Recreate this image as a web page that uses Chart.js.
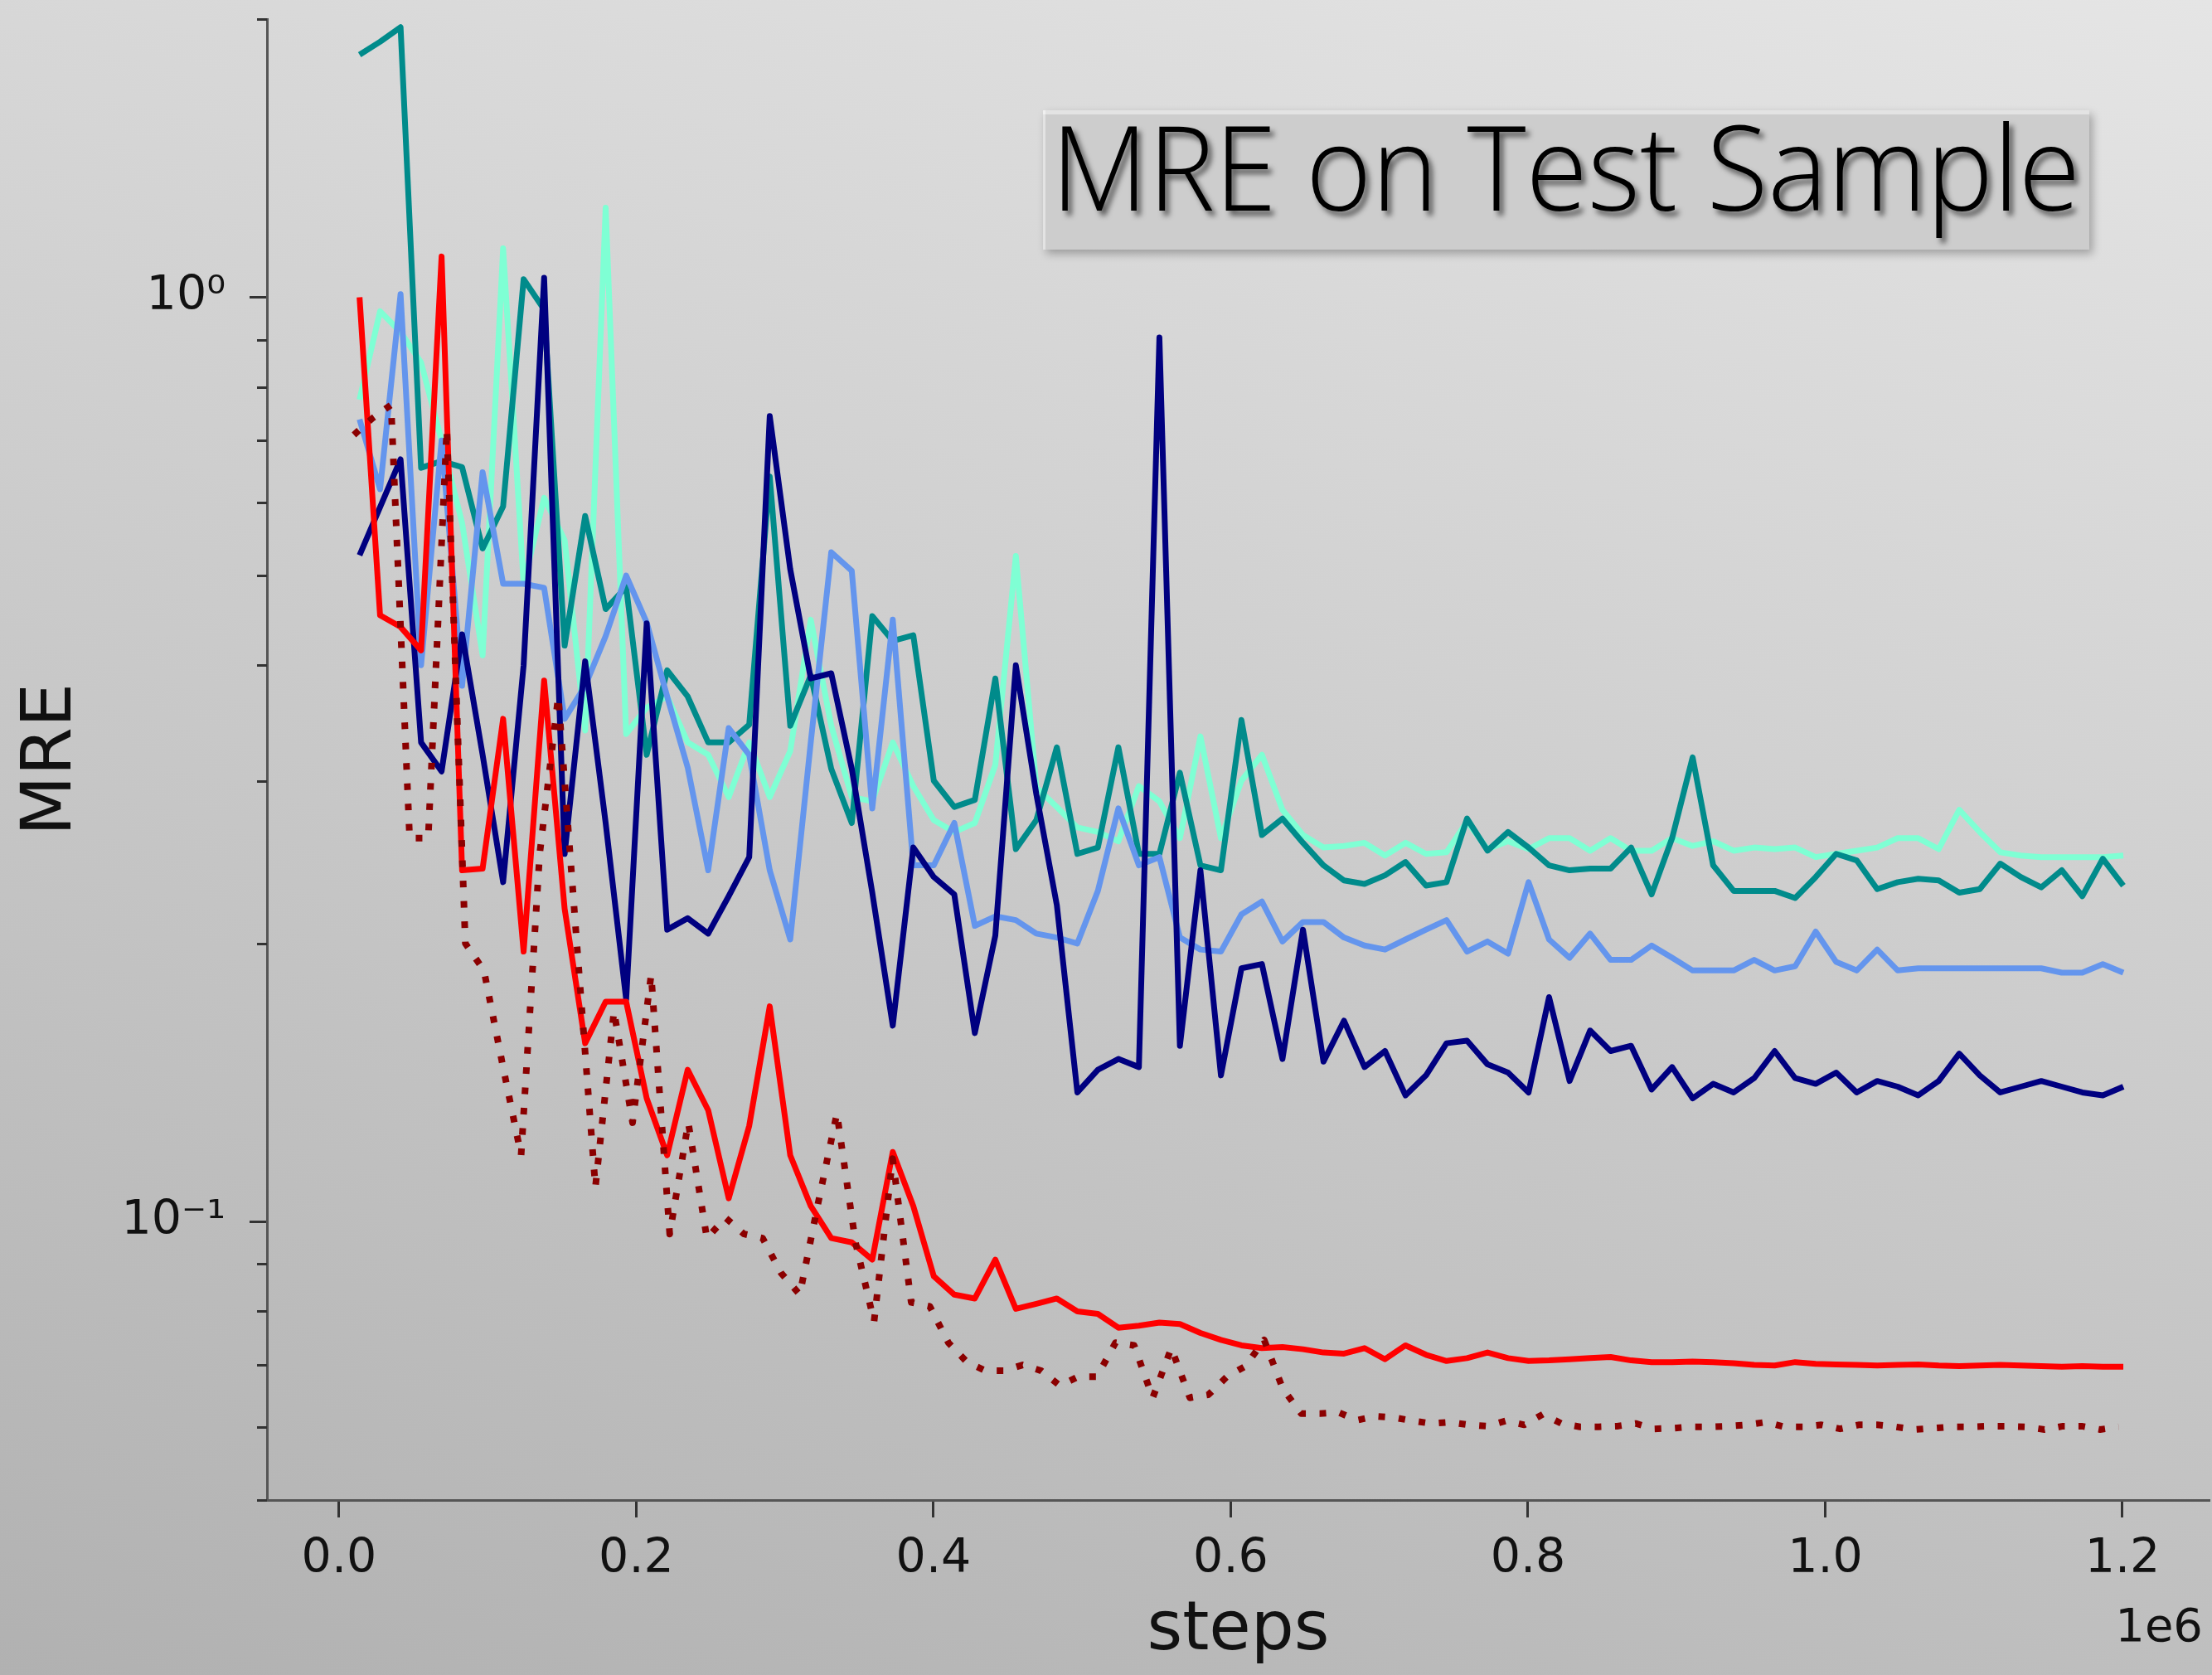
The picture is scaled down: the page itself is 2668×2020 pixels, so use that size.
<!DOCTYPE html>
<html>
<head>
<meta charset="utf-8">
<script src="https://cdn.jsdelivr.net/npm/chart.js@4.4.1/dist/chart.umd.min.js"></script>
<style>
html,body{margin:0;padding:0;}
body{width:2668px;height:2020px;overflow:hidden;background:linear-gradient(195deg,#e5e5e5 0%,#cbcbcb 50%,#b1b1b1 100%);}
#wrap{position:absolute;left:0;top:0;width:2668px;height:2020px;}
canvas{display:block;}
</style>
</head>
<body>
<div id="wrap"><canvas id="c" width="2668" height="2020"></canvas></div>
<script>
// ---------- data ----------
const stepsA = [13800,27600,41400,55200,69000,82800,96600,110400,124200,138000,
151800,165600,179400,193200,207000,220800,234600,248400,262200,276000,
289800,303600,317400,331200,345000,358800,372600,386400,400200,414000,
427800,441600,455400,469200,483000,496800,510600,524400,538200,552000,
565800,579600,593400,607200,621000,634800,648600,662400,676200,690000,
703800,717600,731400,745200,759000,772800,786600,800400,814200,828000,
841800,855600,869400,883200,897000,910800,924600,938400,952200,966000,
979800,993600,1007400,1021200,1035000,1048800,1062600,1076400,1090200,1104000,
1117800,1131600,1145400,1159200,1173000,1186800,1200600];

const stepsB = [10000,22500,35000,47500,60000,72500,85000,97500,110000,122500,
135000,147500,160000,172500,185000,197500,210000,222500,235000,247500,
260000,272500,285000,297500,310000,322500,335000,347500,360000,372500,
385000,397500,410000,422500,435000,447500,460000,472500,485000,497500,
510000,522500,535000,547500,560000,572500,585000,597500,610000,622500,
635000,647500,660000,672500,685000,697500,710000,722500,735000,747500,
760000,772500,785000,797500,810000,822500,835000,847500,860000,872500,
885000,897500,910000,922500,935000,947500,960000,972500,985000,997500,
1010000,1022500,1035000,1047500,1060000,1072500,1085000,1097500,1110000,1122500,
1135000,1147500,1160000,1172500,1185000,1197500];

const tealVals = [1.83,1.89,1.96,0.654,0.665,0.655,0.535,0.594,1.046,0.97,
0.42,0.58,0.46,0.486,0.32,0.395,0.37,0.33,0.33,0.345,
0.64,0.344,0.39,0.309,0.27,0.452,0.425,0.431,0.30,0.281,
0.286,0.387,0.253,0.272,0.326,0.25,0.254,0.326,0.25,0.25,
0.306,0.243,0.24,0.349,0.262,0.273,0.257,0.243,0.234,0.232,
0.237,0.245,0.231,0.233,0.273,0.252,0.264,0.254,0.243,0.24,
0.241,0.241,0.254,0.226,0.26,0.318,0.243,0.228,0.228,0.228,
0.224,0.236,0.25,0.246,0.229,0.233,0.235,0.234,0.227,0.229,
0.244,0.236,0.23,0.24,0.225,0.247,0.231];

const aquaVals = [0.775,0.966,0.917,0.85,0.70,0.57,0.41,1.13,0.49,0.607,
0.546,0.34,1.25,0.337,0.36,0.37,0.33,0.32,0.288,0.33,
0.288,0.323,0.448,0.344,0.288,0.285,0.33,0.296,0.272,0.264,
0.27,0.312,0.525,0.295,0.281,0.267,0.264,0.258,0.296,0.285,
0.26,0.335,0.26,0.30,0.32,0.279,0.262,0.254,0.255,0.257,
0.249,0.257,0.25,0.251,0.271,0.253,0.258,0.253,0.26,0.26,
0.252,0.26,0.252,0.252,0.26,0.255,0.258,0.252,0.254,0.253,
0.254,0.248,0.25,0.252,0.254,0.26,0.26,0.253,0.279,0.264,
0.251,0.249,0.248,0.248,0.248,0.248,0.249];

const cornVals = [0.738,0.62,1.008,0.40,0.70,0.38,0.647,0.49,0.49,0.485,
0.35,0.38,0.43,0.50,0.445,0.37,0.31,0.24,0.342,0.32,
0.24,0.202,0.33,0.53,0.506,0.28,0.448,0.243,0.243,0.27,
0.209,0.214,0.212,0.205,0.203,0.2,0.228,0.28,0.243,0.248,
0.203,0.197,0.196,0.215,0.222,0.201,0.211,0.211,0.203,0.199,
0.197,0.202,0.207,0.212,0.196,0.201,0.195,0.233,0.202,0.193,
0.205,0.192,0.192,0.199,0.193,0.187,0.187,0.187,0.192,0.187,
0.189,0.206,0.191,0.187,0.197,0.187,0.188,0.188,0.188,0.188,
0.188,0.188,0.188,0.186,0.186,0.19,0.186];

const navyVals = [0.526,0.593,0.668,0.33,0.307,0.432,0.32,0.233,0.40,1.05,
0.25,0.404,0.27,0.174,0.444,0.207,0.213,0.205,0.225,0.248,
0.744,0.508,0.387,0.392,0.309,0.227,0.163,0.254,0.236,0.226,
0.16,0.204,0.40,0.29,0.22,0.138,0.146,0.15,0.147,0.905,
0.155,0.24,0.144,0.188,0.19,0.15,0.207,0.149,0.165,0.147,
0.153,0.137,0.144,0.156,0.157,0.148,0.145,0.138,0.175,0.142,
0.161,0.153,0.155,0.139,0.147,0.136,0.141,0.138,0.143,0.153,
0.143,0.141,0.145,0.138,0.142,0.14,0.137,0.142,0.152,0.144,
0.138,0.14,0.142,0.14,0.138,0.137,0.14];

const redVals = [1.0,0.453,0.44,0.415,1.107,0.24,0.241,0.35,0.196,0.385,
0.218,0.156,0.173,0.173,0.136,0.118,0.146,0.132,0.106,0.127,
0.171,0.118,0.104,0.096,0.095,0.091,0.119,0.104,0.0873,0.0834,
0.0826,0.091,0.0805,0.0815,0.0826,0.080,0.0795,0.0768,0.0772,0.0778,
0.0775,0.0758,0.0745,0.0735,0.073,0.0732,0.0728,0.0722,0.072,0.073,
0.071,0.0735,0.0718,0.0707,0.0712,0.0722,0.0712,0.0707,0.0708,0.071,
0.0712,0.0714,0.0708,0.0705,0.0705,0.0706,0.0705,0.0703,0.07,0.0699,
0.0705,0.0702,0.0701,0.07,0.0699,0.07,0.0701,0.0699,0.0698,0.0699,
0.07,0.0699,0.0698,0.0697,0.0698,0.0697,0.0697];

const darkredVals = [0.71,0.74,0.765,0.26,0.26,0.72,0.2,0.187,0.148,0.118,
0.25,0.37,0.2,0.109,0.169,0.128,0.185,0.097,0.128,0.096,
0.101,0.097,0.096,0.088,0.0834,0.105,0.131,0.095,0.078,0.117,
0.0818,0.081,0.074,0.0705,0.069,0.069,0.07,0.069,0.0665,0.068,
0.068,0.074,0.0735,0.0645,0.073,0.0645,0.065,0.068,0.0698,0.0745,
0.066,0.062,0.062,0.0622,0.061,0.0616,0.0614,0.0609,0.0605,0.0607,
0.0603,0.0601,0.0609,0.0603,0.0619,0.0605,0.06,0.06,0.0601,0.0605,
0.0597,0.0598,0.06,0.06,0.0601,0.0603,0.0607,0.06,0.06,0.0603,
0.0597,0.0603,0.0603,0.06,0.0596,0.0598,0.06,0.06,0.0601,0.0601,
0.06,0.0596,0.0601,0.0601,0.0596,0.06];

const xTickValues = [0, 200000, 400000, 600000, 800000, 1000000, 1200000];
const yMajorTicks = [0.1, 1];
const yMajorLabels = ['10\u207B\u00B9', '10\u2070'];
const yMinorTicks = [0.05,0.06,0.07,0.08,0.09,0.2,0.3,0.4,0.5,0.6,0.7,0.8,0.9,2];
const titleText = 'MRE on Test Sample';
const xAxisLabel = 'steps';
const yAxisLabel = 'MRE';
const xOffsetLabel = '1e6';

// ---------- build ----------
const toXY = (xs, ys) => ys.map((v, i) => ({x: xs[i], y: v}));
function series(label, xs, ys, color, extra) {
  return Object.assign({
    label, data: toXY(xs, ys), borderColor: color, backgroundColor: color,
    borderWidth: 7, pointRadius: 0, pointHoverRadius: 0, tension: 0, fill: false,
    borderJoinStyle: 'round', borderCapStyle: 'butt'
  }, extra || {});
}

const minorTicksPlugin = {
  id: 'minorTicks',
  afterDraw(chart) {
    const ctx = chart.ctx, ys = chart.scales.y, left = chart.chartArea.left;
    ctx.save();
    ctx.strokeStyle = '#333';
    ctx.lineWidth = 3;
    yMinorTicks.forEach(v => {
      const p = Math.round(ys.getPixelForValue(v)) + 0.5;
      ctx.beginPath(); ctx.moveTo(left, p); ctx.lineTo(left - 12, p); ctx.stroke();
    });
    ctx.restore();
  }
};

const titleBoxPlugin = {
  id: 'titleBox',
  afterDraw(chart) {
    const ctx = chart.ctx;
    const bx = 1258, by = 133, bw = 1262, bh = 168;
    ctx.save();
    ctx.shadowColor = 'rgba(0,0,0,0.28)';
    ctx.shadowBlur = 10; ctx.shadowOffsetX = 4; ctx.shadowOffsetY = 5;
    ctx.fillStyle = '#cdcdcd';
    ctx.fillRect(bx, by, bw, bh);
    ctx.restore();
    ctx.save();
    ctx.fillStyle = 'rgba(255,255,255,0.45)';
    ctx.fillRect(bx, by, bw, 5);
    ctx.fillRect(bx, by, 3, bh);
    ctx.restore();

    ctx.save();
    ctx.font = '350 143px "Open Sans"';
    ctx.textBaseline = 'alphabetic';
    const m = ctx.measureText(titleText);
    const inkW = m.actualBoundingBoxLeft + m.actualBoundingBoxRight;
    const sx = 1221 / inkW;
    ctx.translate(1281, 254);
    ctx.scale(sx, 1);
    ctx.shadowColor = 'rgba(0,0,0,0.55)';
    ctx.shadowBlur = 6; ctx.shadowOffsetX = 5; ctx.shadowOffsetY = 6;
    ctx.fillStyle = '#000';
    ctx.fillText(titleText, m.actualBoundingBoxLeft, 0);
    ctx.restore();
  }
};

const offsetTextPlugin = {
  id: 'offsetText',
  afterDraw(chart) {
    const ctx = chart.ctx;
    ctx.save();
    ctx.font = '56px "DejaVu Sans"';
    ctx.fillStyle = '#111';
    ctx.textAlign = 'right';
    ctx.textBaseline = 'alphabetic';
    ctx.fillText(xOffsetLabel, 2657, 1979);
    ctx.restore();
  }
};

Chart.defaults.font.family = '"DejaVu Sans"';

new Chart(document.getElementById('c'), {
  type: 'line',
  data: {
    datasets: [
      series('dotted', stepsB, darkredVals, '#8B0000', {borderWidth: 8, borderDash: [8, 16.5]}),
      series('red', stepsA, redVals, '#FF0000'),
      series('navy', stepsA, navyVals, '#000080'),
      series('cornflowerblue', stepsA, cornVals, '#6495ED'),
      series('darkcyan', stepsA, tealVals, '#008B8B'),
      series('aquamarine', stepsA, aquaVals, '#7FFFD4')
    ]
  },
  options: {
    responsive: false,
    animation: false,
    devicePixelRatio: 1,
    events: [],
    layout: {padding: {top: 23, right: 3, left: 0, bottom: 0}},
    plugins: {legend: {display: false}, tooltip: {enabled: false}, title: {display: false}},
    scales: {
      x: {
        type: 'linear', min: -48500, max: 1258600,
        afterBuildTicks: s => { s.ticks = xTickValues.map(v => ({value: v})); },
        afterFit: s => { s.height = 211; s.paddingLeft = 0; s.paddingRight = 0; },
        ticks: {
          callback: v => (v / 1e6).toFixed(1),
          font: {family: '"DejaVu Sans"', size: 57}, color: '#111',
          padding: 17, maxRotation: 0, autoSkip: false
        },
        grid: {display: true, drawOnChartArea: false, drawTicks: true, tickLength: 21, tickWidth: 3, tickColor: '#333'},
        border: {display: true, color: '#555', width: 3},
        title: {display: true, text: xAxisLabel, font: {family: '"DejaVu Sans"', size: 82, lineHeight: 1.2}, color: '#111', padding: {top: 0, bottom: 3}}
      },
      y: {
        type: 'logarithmic', min: 0.05, max: 2,
        afterBuildTicks: s => { s.ticks = yMajorTicks.map(v => ({value: v})); },
        afterFit: s => { s.width = 322; s.paddingTop = 0; s.paddingBottom = 0; },
        ticks: {
          callback: (v, i) => yMajorLabels[i],
          font: {family: '"DejaVu Sans"', size: 57}, color: '#111',
          padding: 29, autoSkip: false
        },
        grid: {display: true, drawOnChartArea: false, drawTicks: true, tickLength: 21, tickWidth: 3, tickColor: '#333'},
        border: {display: true, color: '#555', width: 3},
        title: {display: true, text: yAxisLabel, font: {family: '"DejaVu Sans"', size: 84, lineHeight: 1.2}, color: '#111', padding: {top: 13, bottom: 0}}
      }
    }
  },
  plugins: [minorTicksPlugin, titleBoxPlugin, offsetTextPlugin]
});
</script>
</body>
</html>
